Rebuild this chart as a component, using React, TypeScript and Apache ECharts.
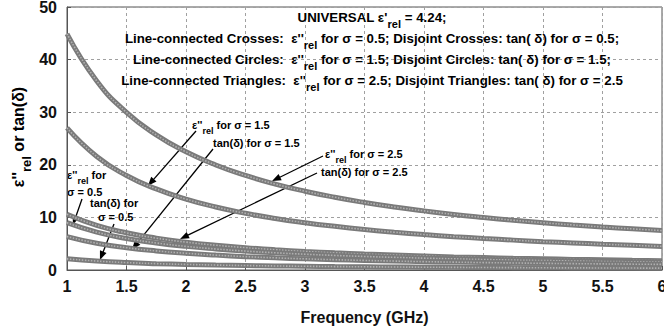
import React, { useEffect, useRef } from 'react';
import * as echarts from 'echarts';

// Frequency samples (GHz)
const FREQ = [1, 1.25, 1.5, 1.75, 2, 2.25, 2.5, 2.75, 3, 3.25, 3.5, 3.75, 4, 4.25, 4.5, 4.75, 5, 5.25, 5.5, 5.75, 6];

// ε''_rel curves (line-connected markers)
const EPS_SIGMA_25 = [44.9, 35.95, 29.96, 25.68, 22.47, 19.97, 17.98, 16.34, 14.98, 13.83, 12.84, 11.98, 11.24, 10.57, 9.99, 9.46, 8.99, 8.56, 8.17, 7.82, 7.49];
const EPS_SIGMA_15 = [27.0, 21.57, 17.97, 15.41, 13.48, 11.98, 10.78, 9.8, 8.99, 8.3, 7.7, 7.19, 6.74, 6.34, 5.99, 5.68, 5.39, 5.14, 4.9, 4.69, 4.49];
const EPS_SIGMA_05 = [8.99, 7.19, 5.99, 5.14, 4.49, 4.0, 3.6, 3.27, 3.0, 2.77, 2.57, 2.4, 2.25, 2.12, 2.0, 1.89, 1.8, 1.71, 1.63, 1.56, 1.5];

// tan(δ) curves (disjoint markers)
const TAN_SIGMA_25 = [10.6, 8.48, 7.07, 6.06, 5.3, 4.71, 4.24, 3.85, 3.53, 3.26, 3.03, 2.83, 2.65, 2.49, 2.36, 2.23, 2.12, 2.02, 1.93, 1.84, 1.77];
const TAN_SIGMA_15 = [6.36, 5.09, 4.24, 3.63, 3.18, 2.83, 2.54, 2.31, 2.12, 1.96, 1.82, 1.7, 1.59, 1.5, 1.41, 1.34, 1.27, 1.21, 1.16, 1.11, 1.06];
const TAN_SIGMA_05 = [2.12, 1.7, 1.41, 1.21, 1.06, 0.94, 0.85, 0.77, 0.71, 0.65, 0.61, 0.57, 0.53, 0.5, 0.47, 0.45, 0.42, 0.4, 0.39, 0.37, 0.35];

const CURVES = [EPS_SIGMA_25, EPS_SIGMA_15, TAN_SIGMA_25, EPS_SIGMA_05, TAN_SIGMA_15, TAN_SIGMA_05];

// Axis ranges
const X_MIN = 1, X_MAX = 6, X_STEP = 0.5;
const Y_MIN = 0, Y_MAX = 50, Y_STEP = 10;

type Part = { t: string; sub?: boolean };

// Legend block lines
const LEGEND_LINES: Part[][] = [
  [{ t: "UNIVERSAL ε'" }, { t: 'rel', sub: true }, { t: ' = 4.24;' }],
  [{ t: "Line-connected Crosses:  ε''" }, { t: 'rel', sub: true }, { t: ' for σ = 0.5; Disjoint Crosses: tan( δ) for σ = 0.5;' }],
  [{ t: "Line-connected Circles:  ε''" }, { t: 'rel', sub: true }, { t: ' for σ = 1.5; Disjoint Circles: tan( δ) for σ = 1.5;' }],
  [{ t: "Line-connected Triangles:  ε''" }, { t: 'rel', sub: true }, { t: ' for σ = 2.5; Disjoint Triangles: tan( δ) for σ = 2.5' }],
];

// Callout labels: left edge x, centre y (px)
const CALLOUTS: { x: number; y: number; parts: Part[] }[] = [
  { x: 192, y: 125, parts: [{ t: "ε''" }, { t: 'rel', sub: true }, { t: ' for σ = 1.5' }] },
  { x: 213, y: 143, parts: [{ t: 'tan(δ) for σ = 1.5' }] },
  { x: 325, y: 154, parts: [{ t: "ε''" }, { t: 'rel', sub: true }, { t: ' for σ = 2.5' }] },
  { x: 321, y: 172, parts: [{ t: 'tan(δ) for σ = 2.5' }] },
  { x: 67, y: 175, parts: [{ t: "ε''" }, { t: 'rel', sub: true }, { t: ' for' }] },
  { x: 67, y: 192, parts: [{ t: 'σ = 0.5' }] },
  { x: 90, y: 203, parts: [{ t: 'tan(δ) for' }] },
  { x: 98, y: 217, parts: [{ t: 'σ = 0.5' }] },
];

// Arrows: tail in px, tip on a curve in data units [GHz, value]
const ARROWS: { from: [number, number]; to: [number, number] }[] = [
  { from: [196, 131], to: [1.68, 16.0] },
  { from: [213, 149], to: [1.546, 3.9] },
  { from: [323, 156], to: [2.723, 16.9] },
  { from: [317, 173], to: [1.95, 5.9] },
  { from: [82, 199], to: [1.05, 8.6] },
  { from: [114, 224], to: [1.277, 1.9] },
];

const FONT = 'Arial, "Liberation Sans", sans-serif';

const measureCtx = document.createElement('canvas').getContext('2d')!;
function textWidth(s: string, size: number) {
  measureCtx.font = `bold ${size}px ${FONT}`;
  return measureCtx.measureText(s).width;
}

function partsElements(parts: Part[], x: number, y: number, size: number, align: 'left' | 'center', subOffset: number) {
  const subSize = Math.round(size * 0.8);
  const widths = parts.map((p) => textWidth(p.t, p.sub ? subSize : size));
  const total = widths.reduce((a, b) => a + b, 0);
  let cx = align === 'center' ? x - total / 2 : x;
  const out: any[] = [];
  parts.forEach((p, i) => {
    const fs = p.sub ? subSize : size;
    const trimmed = p.t.replace(/^\s+/, '');
    const lead = p.t.length - trimmed.length;
    const leadW = lead ? textWidth(p.t.slice(0, lead), fs) : 0;
    out.push({
      type: 'text',
      x: cx + leadW,
      y: p.sub ? y + subOffset : y,
      silent: true,
      style: {
        text: trimmed,
        fontSize: fs,
        fontWeight: 'bold',
        fontFamily: FONT,
        fill: '#000',
        textAlign: 'left',
        textVerticalAlign: 'middle',
        align: 'left',
        verticalAlign: 'middle',
      },
    });
    cx += widths[i];
  });
  return out;
}

export default function App() {
  const ref = useRef<HTMLDivElement>(null);

  useEffect(() => {
    if (!ref.current) return;
    const chart = echarts.init(ref.current, null, { renderer: 'svg' });

    const series: any[] = [];
    CURVES.forEach((vals) => {
      const data = FREQ.map((f, i) => [f, vals[i]]);
      series.push({
        type: 'line',
        data,
        smooth: true,
        showSymbol: false,
        silent: true,
        lineStyle: { color: '#7a7a7a', width: 5 },
      });
      series.push({
        type: 'line',
        data,
        smooth: true,
        showSymbol: false,
        silent: true,
        lineStyle: { color: '#b0b0b0', width: 1.6, type: [1.5, 1.5] },
      });
    });

    const axisLabel = { fontSize: 16, fontWeight: 'bold', fontFamily: FONT, color: '#111' };
    const splitLine = { show: true, lineStyle: { color: '#a0a0a0', width: 1, type: [3, 3] } };

    chart.setOption({
      animation: false,
      backgroundColor: '#fff',
      grid: {
        left: 67,
        right: 2,
        top: 7,
        bottom: 60,
        show: true,
        borderColor: '#555',
        borderWidth: 1,
        outerBoundsMode: 'none',
        containLabel: false,
      },
      xAxis: {
        type: 'value',
        min: X_MIN,
        max: X_MAX,
        interval: X_STEP,
        axisLine: { lineStyle: { color: '#555' } },
        axisTick: { inside: true, length: 4, lineStyle: { color: '#555' } },
        axisLabel: { ...axisLabel, margin: 8 },
        splitLine,
        name: 'Frequency (GHz)',
        nameLocation: 'middle',
        nameGap: 39,
        nameTextStyle: { fontSize: 16, fontWeight: 'bold', fontFamily: FONT, color: '#111' },
      },
      yAxis: {
        type: 'value',
        min: Y_MIN,
        max: Y_MAX,
        interval: Y_STEP,
        axisLine: { show: true, lineStyle: { color: '#555' } },
        axisTick: { show: true, inside: true, length: 4, lineStyle: { color: '#555' } },
        axisLabel: { ...axisLabel, margin: 10 },
        splitLine,
      },
      series,
    });

    const g: any[] = [];

    // legend block
    const rowsY = [17, 38, 59, 80];
    LEGEND_LINES.forEach((parts, i) => {
      g.push(...partsElements(parts, 372, rowsY[i], 13.3, 'center', 6.5));
    });

    // callout labels
    CALLOUTS.forEach((c) => {
      g.push(...partsElements(c.parts, c.x, c.y, 11, 'left', 6));
    });

    // arrows
    ARROWS.forEach((a) => {
      const tip = chart.convertToPixel({ gridIndex: 0 }, a.to) as number[];
      const [x0, y0] = a.from;
      const dx = tip[0] - x0, dy = tip[1] - y0;
      const len = Math.hypot(dx, dy);
      const ux = dx / len, uy = dy / len;
      const headL = 9, headW = 3.5;
      const bx = tip[0] - ux * headL, by = tip[1] - uy * headL;
      g.push({
        type: 'line',
        silent: true,
        shape: { x1: x0, y1: y0, x2: bx + ux * 2, y2: by + uy * 2 },
        style: { stroke: '#000', lineWidth: 1.3 },
      });
      g.push({
        type: 'polygon',
        silent: true,
        shape: {
          points: [
            [tip[0], tip[1]],
            [bx - uy * headW, by + ux * headW],
            [bx + uy * headW, by - ux * headW],
          ],
        },
        style: { fill: '#000' },
      });
    });

    // y-axis title, rotated
    g.push({
      type: 'group',
      x: 18,
      y: 137,
      rotation: Math.PI / 2,
      children: partsElements([{ t: "ε''" }, { t: 'rel', sub: true }, { t: ' or tan(δ)' }], 0, 0, 16, 'center', 8),
    });

    chart.setOption({ graphic: g });

    return () => chart.dispose();
  }, []);

  return <div ref={ref} style={{ position: 'fixed', left: 0, top: 0, width: 664, height: 330 }} />;
}
